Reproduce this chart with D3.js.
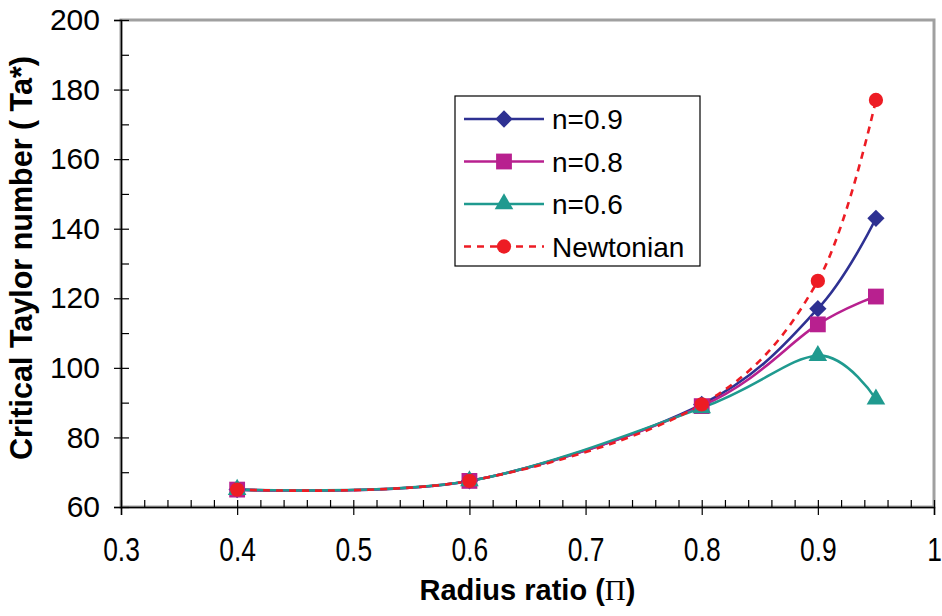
<!DOCTYPE html>
<html>
<head>
<meta charset="utf-8">
<script src="https://cdn.jsdelivr.net/npm/d3@7"></script>
<style>
  body { margin: 0; background: #fff; }
  text { font-family: "Liberation Sans", Arial, sans-serif; fill: #000; }
</style>
</head>
<body>
<script>
// chart size and plot box
var W = 942;
var H = 616;
var Left = 121, Right = 934, Top = 20, Bottom = 507;

// data
var radiusRatio = [0.4, 0.6, 0.8, 0.9, 0.95];
var n09 = [65, 67.5, 89.5, 117, 143];
var n08 = [65, 67.5, 89, 112.5, 120.5];
var n06 = [65, 67.5, 88.5, 103.5, 91];
var newtonian = [65, 67.5, 89.5, 125, 177];
var seriesNames = ["n=0.9", "n=0.8", "n=0.6", "Newtonian"];
var xTicks = [0.3, 0.4, 0.5, 0.6, 0.7, 0.8, 0.9, 1];
var yTicks = [60, 80, 100, 120, 140, 160, 180, 200];

var series = [
  { name: seriesNames[0], values: n09, color: "#2e3192", marker: "diamond", dash: null },
  { name: seriesNames[1], values: n08, color: "#b8208f", marker: "square", dash: null },
  { name: seriesNames[2], values: n06, color: "#1f9a8f", marker: "triangle", dash: null },
  { name: seriesNames[3], values: newtonian, color: "#ed1c24", marker: "circle", dash: "7,6" }
];

var svg = d3.select("body").append("svg")
  .attr("width", W)
  .attr("height", H);

var x = d3.scaleLinear().domain([0.3, 1]).range([Left, Right]);
var y = d3.scaleLinear().domain([60, 200]).range([Bottom, Top]);

//grey plot border (top and right show)
svg.append("rect")
  .attr("x", Left).attr("y", Top)
  .attr("width", Right - Left).attr("height", Bottom - Top)
  .attr("fill", "none")
  .attr("stroke", "#a0a0a0")
  .attr("stroke-width", 3);

// x axis: labels + outer part of major ticks
var xMinor = d3.range(0.3, 1.001, 0.02);
svg.append("g")
  .attr("transform", "translate(0," + Bottom + ")")
  .call(d3.axisBottom(x).tickValues(xTicks).tickSize(8)
    .tickFormat(function(d) { return d === 1 ? "1" : d3.format(".1f")(d); }))
  .call(function(g) {
    g.select(".domain").attr("stroke", "#000").attr("stroke-width", 1.5);
    g.selectAll(".tick line").attr("stroke", "#000").attr("stroke-width", 1.2);
    // labels are condensed in the original
    g.selectAll(".tick text")
      .attr("font-size", 33)
      .attr("y", 0)
      .attr("dy", null)
      .attr("transform", "translate(0,54) scale(0.8,1)");
  });
// inner ticks on x (minor and major)
svg.append("g")
  .attr("transform", "translate(0," + Bottom + ")")
  .call(d3.axisTop(x).tickValues(xMinor).tickSize(7).tickFormat(""))
  .call(function(g) {
    g.select(".domain").remove();
    g.selectAll(".tick line").attr("stroke", "#000").attr("stroke-width", 1.2);
  });

// y axis
var yMinor = d3.range(60, 200.1, 10);
svg.append("g")
  .attr("transform", "translate(" + Left + ",0)")
  .call(d3.axisLeft(y).tickValues(yTicks).tickSize(7).tickPadding(14))
  .call(function(g) {
    g.select(".domain").attr("stroke", "#000").attr("stroke-width", 1.5);
    g.selectAll(".tick line").attr("stroke", "#000").attr("stroke-width", 1.2);
    g.selectAll(".tick text").attr("font-size", 30);
  });
svg.append("g")
  .attr("transform", "translate(" + Left + ",0)")
  .call(d3.axisRight(y).tickValues(yMinor).tickSize(8).tickFormat(""))
  .call(function(g) {
    g.select(".domain").remove();
    g.selectAll(".tick line").attr("stroke", "#000").attr("stroke-width", 1.2);
  });

// axis titles
var xTitle = svg.append("text")
  .attr("x", (Left + Right) / 2)
  .attr("y", 600)
  .attr("text-anchor", "middle")
  .attr("font-size", 29)
  .attr("font-weight", "bold");
xTitle.append("tspan").text("Radius ratio (");
xTitle.append("tspan").attr("font-family", "Liberation Serif, serif").attr("font-weight", "normal").text("Π");
xTitle.append("tspan").text(")");

svg.append("text")
  .attr("transform", "translate(32,258) rotate(-90)")
  .attr("text-anchor", "middle")
  .attr("font-size", 30.5)
  .attr("font-weight", "bold")
  .text("Critical Taylor number ( Ta*)");

// lines
var line = d3.line()
  .x(function(d, i) { return x(radiusRatio[i]); })
  .y(function(d) { return y(d); })
  .curve(d3.curveCardinal.tension(0));

svg.selectAll(".series")
  .data(series)
  .enter()
  .append("path")
  .attr("class", "series")
  .attr("d", function(d) { return line(d.values); })
  .attr("fill", "none")
  .attr("stroke", function(d) { return d.color; })
  .attr("stroke-width", 2.6)
  .attr("stroke-dasharray", function(d) { return d.dash; });

// markers
var shapes = {
  diamond: d3.symbol().type(d3.symbolDiamond2).size(190),
  square: d3.symbol().type(d3.symbolSquare).size(250),
  triangle: d3.symbol().type(d3.symbolTriangle).size(150),
  circle: d3.symbol().type(d3.symbolCircle).size(160)
};

series.forEach(function(s) {
  svg.selectAll(null)
    .data(s.values)
    .enter()
    .append("path")
    .attr("d", shapes[s.marker])
    .attr("transform", function(d, i) {
      return "translate(" + x(radiusRatio[i]) + "," + y(d) + ")";
    })
    .attr("fill", s.color);
});

// legend
var legend = svg.append("g");
legend.append("rect")
  .attr("x", 455).attr("y", 96)
  .attr("width", 245).attr("height", 170)
  .attr("fill", "#fff")
  .attr("stroke", "#000")
  .attr("stroke-width", 1.2);

var rows = legend.selectAll(".row")
  .data(series)
  .enter()
  .append("g")
  .attr("transform", function(d, i) { return "translate(0," + (119 + i * 42.5) + ")"; });

rows.append("line")
  .attr("x1", 464).attr("x2", 544)
  .attr("stroke", function(d) { return d.color; })
  .attr("stroke-width", 2.6)
  .attr("stroke-dasharray", function(d) { return d.dash; });
rows.append("path")
  .attr("d", function(d) { return shapes[d.marker](); })
  .attr("transform", "translate(504,0)")
  .attr("fill", function(d) { return d.color; });
rows.append("text")
  .attr("x", 552)
  .attr("dy", "0.36em")
  .attr("font-size", 28)
  .text(function(d) { return d.name; });
</script>
</body>
</html>
